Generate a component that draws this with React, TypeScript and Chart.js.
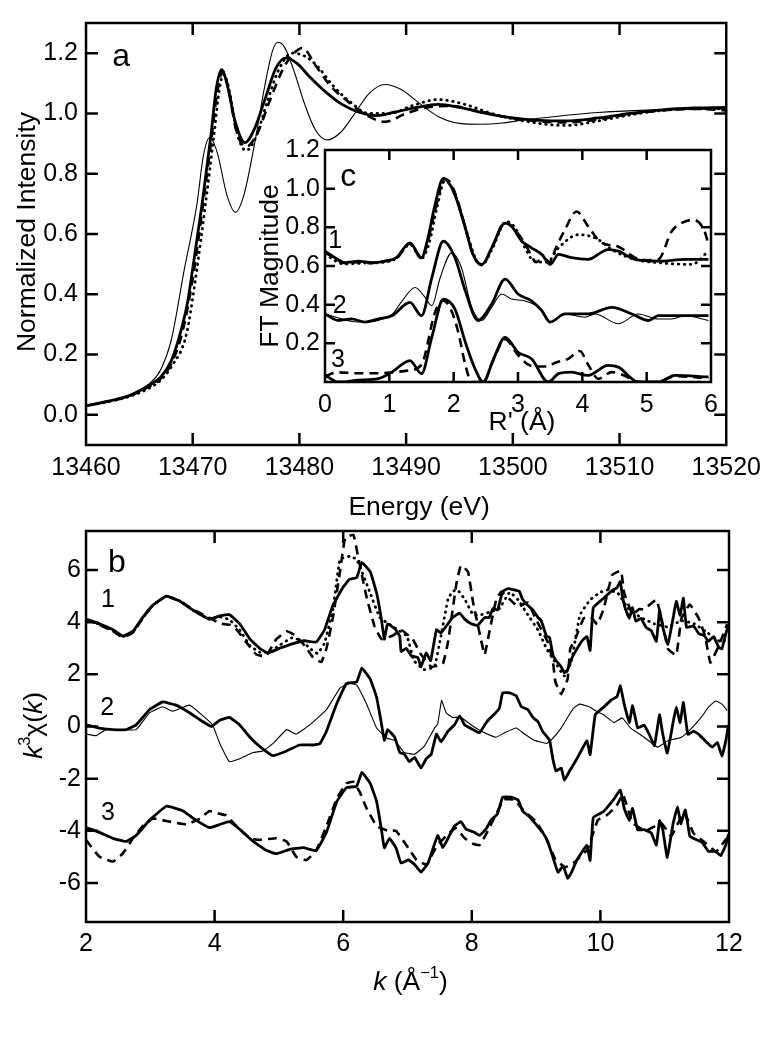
import React, { useEffect, useRef } from "react";
import { Chart, registerables } from "chart.js";

Chart.register(...registerables);

const FONT = "'Liberation Sans', Arial, Helvetica, sans-serif";

// ---------- Panel a : XANES (energy, normalized intensity) ----------
const E_TICKS = [13460, 13470, 13480, 13490, 13500, 13510, 13520];
const A_Y_TICKS = [0.0, 0.2, 0.4, 0.6, 0.8, 1.0, 1.2];

const A_THICK: [number, number][] = [
  [13460, 0.03], [13462, 0.045], [13464, 0.063], [13466, 0.1], [13467, 0.125], [13468, 0.18],
  [13468.8, 0.266], [13469.5, 0.37], [13470, 0.485], [13470.9, 0.705], [13471.7, 0.925],
  [13472.2, 1.08], [13472.7, 1.145], [13473.2, 1.1], [13474, 0.97], [13474.9, 0.903],
  [13475.8, 0.95], [13476.8, 1.05], [13477.8, 1.15], [13478.75, 1.184], [13479.8, 1.165],
  [13481, 1.12], [13482.5, 1.07], [13484, 1.03], [13485.5, 1.005], [13487.2, 0.993],
  [13489, 1.005], [13491, 1.02], [13493, 1.03], [13495, 1.02], [13497.5, 1.0], [13500, 0.985],
  [13502.5, 0.977], [13505, 0.975], [13508, 0.985], [13511, 1.0], [13514, 1.012],
  [13517, 1.018], [13520, 1.02],
];
const A_THIN: [number, number][] = [
  [13460, 0.03], [13462, 0.045], [13464, 0.065], [13466, 0.105], [13467, 0.15], [13468, 0.25],
  [13469.2, 0.48], [13470.4, 0.7], [13471, 0.86], [13471.6, 0.92], [13472.3, 0.87],
  [13473.2, 0.73], [13474, 0.672], [13474.8, 0.73], [13475.8, 0.9], [13476.8, 1.1],
  [13477.5, 1.21], [13478, 1.236], [13478.6, 1.22], [13479.5, 1.14], [13480.5, 1.03],
  [13481.5, 0.945], [13482.6, 0.912], [13483.8, 0.935], [13485, 0.99], [13486.5, 1.065],
  [13488, 1.096], [13489.5, 1.08], [13491.2, 1.035], [13493, 0.99], [13495, 0.967],
  [13497, 0.964], [13499, 0.968], [13501, 0.978], [13504, 0.99], [13508, 1.003],
  [13512, 1.01], [13516, 1.013], [13520, 1.015],
];
const A_DOTTED: [number, number][] = [
  [13460, 0.03], [13462, 0.043], [13464, 0.06], [13466, 0.09], [13467, 0.115], [13468, 0.16],
  [13469.4, 0.266], [13470.3, 0.46], [13471.2, 0.7], [13472, 0.93], [13472.5, 1.08],
  [13472.9, 1.13], [13473.4, 1.08], [13474.2, 0.93], [13475, 0.877], [13475.9, 0.92],
  [13477, 1.04], [13478, 1.14], [13479.3, 1.2], [13480.5, 1.19], [13481.6, 1.16],
  [13483.2, 1.09], [13484.7, 1.04], [13486.5, 1.0], [13488.5, 1.0], [13490.5, 1.025],
  [13493, 1.046], [13495.5, 1.03], [13498, 1.0], [13501, 0.975], [13505, 0.96],
  [13508, 0.975], [13511, 0.995], [13514, 1.01], [13517, 1.015], [13520, 1.015],
];
const A_DASHED: [number, number][] = [
  [13460, 0.03], [13462, 0.044], [13464, 0.062], [13466, 0.095], [13467, 0.12], [13468, 0.17],
  [13469, 0.27], [13470, 0.45], [13470.9, 0.68], [13471.7, 0.9], [13472.3, 1.07],
  [13472.8, 1.14], [13473.3, 1.09], [13474.1, 0.94], [13475, 0.89], [13476, 0.93],
  [13477.2, 1.04], [13478.5, 1.15], [13479.5, 1.2], [13480.3, 1.217], [13481.5, 1.16],
  [13482.8, 1.096], [13484.7, 1.035], [13486.5, 0.99], [13488, 0.972], [13490, 1.0],
  [13492, 1.02], [13494, 1.025], [13496.5, 1.01], [13499, 0.99], [13502, 0.975],
  [13505, 0.97], [13508, 0.98], [13511, 0.998], [13514, 1.01], [13517, 1.015], [13520, 1.01],
];

// ---------- Panel c : Fourier transforms (R', FT magnitude) ----------
const R_TICKS = [0, 1, 2, 3, 4, 5, 6];
const C_Y_TICKS = [0.2, 0.4, 0.6, 0.8, 1.0, 1.2];

const C1_THICK: [number, number][] = [
  [0, 0.677], [0.155, 0.643], [0.31, 0.617], [0.52, 0.625], [0.725, 0.617], [0.93, 0.625],
  [1.11, 0.643], [1.32, 0.72], [1.5, 0.643], [1.6, 0.745], [1.71, 0.916], [1.84, 1.053],
  [2.02, 0.968], [2.18, 0.797], [2.3, 0.66], [2.44, 0.608], [2.59, 0.694], [2.8, 0.822],
  [2.9, 0.805], [3.06, 0.728], [3.21, 0.694], [3.37, 0.66], [3.5, 0.608], [3.63, 0.66],
  [3.83, 0.643], [4.09, 0.634], [4.4, 0.685], [4.56, 0.677], [4.82, 0.634], [5.18, 0.625],
  [5.6, 0.634], [5.96, 0.634],
];
const C1_DASHED: [number, number][] = [
  [0, 0.67], [0.155, 0.64], [0.31, 0.615], [0.52, 0.62], [0.725, 0.615], [0.93, 0.625],
  [1.11, 0.64], [1.32, 0.715], [1.5, 0.64], [1.6, 0.73], [1.72, 0.9], [1.86, 1.05],
  [1.95, 1.03], [2.05, 0.95], [2.18, 0.8], [2.3, 0.66], [2.44, 0.605], [2.59, 0.69],
  [2.8, 0.825], [2.92, 0.8], [3.06, 0.74], [3.2, 0.66], [3.28, 0.62], [3.4, 0.64],
  [3.5, 0.62], [3.58, 0.686], [3.73, 0.788], [3.91, 0.882], [4.09, 0.805], [4.3, 0.72],
  [4.56, 0.7], [4.82, 0.643], [5.0, 0.63], [5.18, 0.634], [5.39, 0.78], [5.54, 0.822],
  [5.73, 0.839], [5.9, 0.78], [5.96, 0.711],
];
const C1_DOTTED: [number, number][] = [
  [0, 0.66], [0.3, 0.61], [0.6, 0.615], [0.93, 0.62], [1.11, 0.64], [1.32, 0.71], [1.5, 0.64],
  [1.62, 0.72], [1.74, 0.9], [1.86, 1.04], [1.95, 1.02], [2.05, 0.94], [2.2, 0.78],
  [2.35, 0.63], [2.44, 0.605], [2.6, 0.69], [2.82, 0.83], [2.95, 0.8], [3.1, 0.7], [3.2, 0.64],
  [3.3, 0.62], [3.45, 0.62], [3.63, 0.694], [3.94, 0.762], [4.2, 0.745], [4.5, 0.677],
  [4.82, 0.634], [5.18, 0.617], [5.7, 0.608], [5.96, 0.677],
];
const C2_THICK: [number, number][] = [
  [0, 0.352], [0.21, 0.318], [0.41, 0.326], [0.62, 0.31], [0.83, 0.326], [1.04, 0.343],
  [1.32, 0.412], [1.5, 0.343], [1.66, 0.539], [1.84, 0.728], [2.02, 0.643], [2.18, 0.472],
  [2.38, 0.318], [2.59, 0.403], [2.8, 0.532], [3.0, 0.455], [3.21, 0.42], [3.37, 0.369],
  [3.5, 0.31], [3.73, 0.352], [4.09, 0.352], [4.46, 0.386], [4.77, 0.352], [5.03, 0.318],
  [5.18, 0.343], [5.96, 0.343],
];
const C2_THIN: [number, number][] = [
  [0, 0.352], [0.52, 0.31], [1.04, 0.35], [1.2, 0.42], [1.4, 0.489], [1.55, 0.44],
  [1.66, 0.395], [1.79, 0.539], [1.97, 0.668], [2.12, 0.592], [2.28, 0.386], [2.44, 0.318],
  [2.59, 0.386], [2.75, 0.455], [2.9, 0.429], [3.1, 0.42], [3.32, 0.386], [3.5, 0.31],
  [3.73, 0.352], [4.04, 0.335], [4.2, 0.352], [4.56, 0.301], [4.87, 0.352], [5.18, 0.326],
  [5.39, 0.326], [5.6, 0.343], [5.96, 0.318],
];
const C3_THICK: [number, number][] = [
  [0, 0.036], [0.21, 0.0], [0.52, 0.009], [0.83, 0.017], [1.04, 0.051], [1.32, 0.111],
  [1.5, 0.043], [1.66, 0.231], [1.84, 0.428], [2.02, 0.377], [2.18, 0.207], [2.33, 0.07],
  [2.46, 0.0], [2.62, 0.12], [2.8, 0.231], [3.0, 0.154], [3.21, 0.12], [3.47, 0.0],
  [3.63, 0.043], [3.83, 0.051], [4.09, 0.034], [4.4, 0.086], [4.56, 0.077], [4.87, 0.0],
  [5.18, 0.0], [5.44, 0.034], [5.96, 0.026],
];
const C3_DASHED: [number, number][] = [
  [0, 0.03], [0.2, 0.05], [0.5, 0.045], [0.8, 0.045], [1.04, 0.05], [1.3, 0.06], [1.5, 0.09],
  [1.71, 0.36], [1.84, 0.42], [1.95, 0.38], [2.07, 0.26], [2.18, 0.09], [2.28, 0.0],
  [2.46, 0.0], [2.6, 0.1], [2.8, 0.22], [3.0, 0.14], [3.16, 0.09], [3.3, 0.08], [3.45, 0.08],
  [3.58, 0.1], [3.78, 0.12], [3.96, 0.16], [4.09, 0.09], [4.25, 0.017], [4.46, 0.051],
  [4.65, 0.034], [4.87, 0.0], [5.18, 0.0], [5.44, 0.03], [5.96, 0.02],
];

// ---------- Panel b : EXAFS k^3 chi(k) ----------
const K_TICKS = [2, 4, 6, 8, 10, 12];
const B_Y_TICKS = [-6, -4, -2, 0, 2, 4, 6];

const B1_THICK: [number, number][] = [
  [2.0, 4.12], [2.21, 3.94], [2.42, 3.71], [2.57, 3.47], [2.73, 3.65], [2.88, 4.18], [3.04, 4.65],
  [3.25, 5.0], [3.45, 4.82], [3.66, 4.47], [3.92, 4.12], [4.08, 4.24], [4.23, 4.29], [4.39, 3.94],
  [4.55, 3.35], [4.7, 3.0], [4.83, 2.82], [5.01, 3.0], [5.22, 3.18], [5.4, 3.29], [5.58, 3.24],
  [5.71, 3.71], [5.84, 4.65], [6.0, 5.35], [6.1, 5.65], [6.21, 5.71], [6.29, 6.29], [6.42, 5.94],
  [6.52, 5.12], [6.59, 4.18], [6.64, 3.35], [6.69, 3.94], [6.8, 3.76], [6.88, 3.47], [6.9, 2.88],
  [6.98, 3.0], [7.06, 2.71], [7.16, 2.65], [7.21, 2.29], [7.29, 2.82], [7.36, 2.53], [7.45, 3.71],
  [7.52, 3.59], [7.63, 3.94], [7.7, 4.18], [7.81, 4.35], [7.89, 4.12], [7.99, 3.94], [8.09, 3.88],
  [8.2, 4.18], [8.27, 4.18], [8.33, 4.53], [8.4, 4.47], [8.48, 5.18], [8.56, 5.29], [8.66, 5.24],
  [8.74, 5.18], [8.79, 4.88], [8.87, 4.65], [8.95, 4.47], [9.03, 4.18], [9.08, 4.06], [9.16, 3.47],
  [9.21, 3.41], [9.26, 2.76], [9.31, 2.53], [9.39, 2.29], [9.44, 2.06], [9.49, 2.18], [9.54, 2.53],
  [9.58, 2.74], [9.71, 3.27], [9.79, 3.45], [9.84, 2.92], [9.89, 4.56], [10.05, 4.92],
  [10.18, 5.21], [10.26, 5.33], [10.31, 5.56], [10.34, 5.04], [10.39, 4.5], [10.45, 4.15],
  [10.5, 4.56], [10.55, 4.04], [10.63, 4.15], [10.71, 3.8], [10.79, 3.68], [10.87, 3.27],
  [10.92, 4.45], [10.97, 3.8], [11.05, 3.15], [11.13, 4.15], [11.18, 4.8], [11.24, 4.27],
  [11.29, 4.92], [11.34, 3.8], [11.45, 3.86], [11.53, 3.56], [11.61, 3.5], [11.68, 3.27],
  [11.76, 3.45], [11.84, 3.04], [11.89, 2.98], [11.95, 3.56], [12.0, 3.92],
];
const B1_DASHED: [number, number][] = [
  [2.0, 4.12], [2.21, 3.9], [2.42, 3.65], [2.57, 3.42], [2.73, 3.6], [2.88, 4.15], [3.04, 4.65],
  [3.25, 5.0], [3.45, 4.82], [3.66, 4.5], [3.85, 4.25], [4.0, 4.06], [4.1, 3.94], [4.25, 3.9],
  [4.35, 3.7], [4.49, 3.24], [4.65, 2.76], [4.8, 2.7], [4.96, 3.35], [5.12, 3.65], [5.25, 3.5],
  [5.4, 3.1], [5.53, 2.65], [5.66, 2.47], [5.74, 3.0], [5.84, 4.18], [5.95, 5.94], [6.03, 7.24],
  [6.16, 7.35], [6.23, 6.53], [6.36, 5.0], [6.49, 3.82], [6.6, 3.35], [6.78, 3.5], [6.9, 3.71],
  [7.08, 3.35], [7.2, 2.8], [7.37, 2.29], [7.55, 2.41], [7.63, 3.24], [7.76, 5.47], [7.83, 6.18],
  [7.94, 5.94], [8.02, 4.76], [8.12, 3.59], [8.2, 2.76], [8.27, 3.59], [8.38, 4.88], [8.46, 5.18],
  [8.59, 4.88], [8.72, 4.59], [8.87, 4.76], [9.0, 4.1], [9.18, 3.24], [9.26, 2.53], [9.3, 1.71],
  [9.39, 1.24], [9.49, 1.82], [9.53, 2.98], [9.6, 3.3], [9.74, 4.15], [9.85, 4.2], [9.95, 3.92],
  [10.05, 4.5], [10.18, 5.8], [10.32, 5.98], [10.37, 5.12], [10.5, 4.3], [10.6, 4.5],
  [10.68, 4.5], [10.87, 4.86], [10.95, 4.15], [11.05, 2.98], [11.18, 2.74], [11.26, 4.15],
  [11.39, 4.68], [11.53, 4.15], [11.63, 3.45], [11.71, 2.45], [11.84, 3.09], [11.97, 3.92],
];
const B1_DOTTED: [number, number][] = [
  [2.0, 4.1], [2.21, 3.92], [2.42, 3.68], [2.57, 3.45], [2.73, 3.62], [2.88, 4.15], [3.04, 4.65],
  [3.25, 5.0], [3.45, 4.82], [3.66, 4.47], [3.92, 4.12], [4.08, 4.2], [4.23, 4.1], [4.39, 3.7],
  [4.55, 3.1], [4.7, 2.85], [4.85, 2.85], [5.0, 3.1], [5.2, 3.4], [5.35, 3.3], [5.48, 3.0],
  [5.6, 2.8], [5.71, 3.2], [5.84, 4.5], [5.95, 6.41], [6.1, 6.53], [6.21, 6.41], [6.42, 5.12],
  [6.57, 4.18], [6.78, 3.82], [6.99, 3.47], [7.1, 2.53], [7.26, 2.18], [7.42, 2.29], [7.52, 3.47],
  [7.63, 4.88], [7.7, 5.18], [7.78, 5.24], [7.89, 4.88], [8.02, 4.29], [8.15, 4.29], [8.3, 4.41],
  [8.43, 4.53], [8.59, 5.15], [8.72, 4.86], [8.87, 4.29], [9.03, 3.7], [9.16, 3.0], [9.28, 2.53],
  [9.44, 1.94], [9.55, 2.5], [9.68, 4.27], [9.84, 4.86], [10.0, 5.15], [10.11, 5.24],
  [10.27, 5.12], [10.43, 4.53], [10.63, 4.18], [10.84, 3.94], [11.05, 3.82], [11.26, 4.06],
  [11.46, 3.94], [11.67, 3.59], [11.88, 3.24], [12.0, 3.4],
];
const B2_THICK: [number, number][] = [
  [2.0, 0.06], [2.21, -0.06], [2.42, -0.12], [2.62, -0.12], [2.78, 0.06], [2.99, 0.65],
  [3.19, 0.94], [3.4, 0.82], [3.61, 0.53], [3.82, 0.18], [3.95, 0.0], [4.08, 0.24], [4.23, 0.35],
  [4.39, 0.06], [4.55, -0.41], [4.7, -0.76], [4.91, -1.12], [5.12, -0.94], [5.32, -0.71],
  [5.53, -0.71], [5.64, -0.65], [5.74, -0.18], [5.9, 0.88], [6.05, 1.65], [6.21, 1.71],
  [6.29, 2.24], [6.42, 1.82], [6.52, 1.12], [6.59, 0.18], [6.64, -0.53], [6.69, -0.12],
  [6.8, -0.41], [6.88, -1.0], [6.95, -1.06], [7.03, -1.35], [7.11, -1.18], [7.21, -1.59],
  [7.29, -1.24], [7.37, -1.06], [7.45, -0.29], [7.52, -0.59], [7.63, -0.18], [7.73, 0.06],
  [7.81, 0.41], [7.89, 0.06], [8.02, -0.12], [8.12, -0.24], [8.2, 0.06], [8.27, 0.29],
  [8.35, 0.47], [8.43, 0.71], [8.48, 1.29], [8.59, 1.29], [8.69, 1.18], [8.77, 0.76],
  [8.87, 0.65], [8.95, 0.35], [9.03, 0.18], [9.1, -0.18], [9.21, -0.53], [9.26, -1.24],
  [9.31, -1.71], [9.39, -1.59], [9.44, -2.06], [9.52, -1.71], [9.63, -1.26], [9.79, -0.55],
  [9.84, -1.08], [9.92, 0.45], [10.05, 0.74], [10.18, 1.04], [10.26, 1.15], [10.31, 1.56],
  [10.37, 0.86], [10.45, 0.15], [10.5, 0.8], [10.58, -0.06], [10.68, 0.05], [10.76, -0.3],
  [10.84, -0.73], [10.92, 0.45], [10.97, -0.3], [11.04, -1.02], [11.13, 0.15], [11.18, 0.74],
  [11.24, 0.15], [11.29, 0.92], [11.36, -0.3], [11.45, -0.18], [11.53, -0.3], [11.63, -0.55],
  [11.74, -0.79], [11.82, -0.61], [11.89, -1.14], [11.95, -0.55], [11.99, 0.06],
];
const B2_THIN: [number, number][] = [
  [2.0, -0.29], [2.16, -0.35], [2.31, -0.12], [2.52, -0.12], [2.78, -0.12], [2.99, 0.53],
  [3.19, 0.76], [3.35, 0.59], [3.61, 0.82], [3.82, 0.41], [3.97, 0.06], [4.08, -0.65],
  [4.23, -1.35], [4.39, -1.24], [4.6, -1.0], [4.75, -0.94], [4.91, -0.65], [5.12, -0.12],
  [5.27, -0.29], [5.48, 0.06], [5.74, 0.65], [5.95, 1.47], [6.1, 1.65], [6.21, 1.59],
  [6.36, 0.88], [6.52, -0.06], [6.68, -0.45], [6.8, -0.53], [6.95, -1.0], [7.11, -1.06],
  [7.26, -0.76], [7.42, -0.06], [7.47, 0.1], [7.53, 1.0], [7.6, 0.53], [7.7, 0.35], [7.83, 0.35],
  [7.99, 0.06], [8.15, -0.18], [8.3, -0.35], [8.38, -0.41], [8.51, -0.24], [8.69, -0.06],
  [8.82, -0.29], [8.97, -0.53], [9.16, -0.65], [9.23, -0.53], [9.39, -0.06], [9.52, 0.47],
  [9.6, 0.74], [9.68, 0.86], [9.84, 0.74], [9.95, 0.56], [10.05, 0.45], [10.21, 0.15],
  [10.34, 0.33], [10.47, -0.06], [10.68, -0.41], [10.89, -0.79], [11.05, -0.55], [11.26, -0.41],
  [11.42, -0.06], [11.58, 0.39], [11.68, 0.74], [11.79, 0.98], [11.89, 0.86], [11.97, 0.62],
];
const B3_THICK: [number, number][] = [
  [2.0, -3.88], [2.21, -4.06], [2.42, -4.29], [2.62, -4.41], [2.78, -4.18], [2.99, -3.59],
  [3.25, -3.06], [3.51, -3.24], [3.71, -3.59], [3.92, -3.88], [4.08, -3.76], [4.23, -3.65],
  [4.39, -3.94], [4.6, -4.41], [4.81, -4.76], [4.96, -4.88], [5.17, -4.71], [5.38, -4.65],
  [5.58, -4.76], [5.74, -4.06], [5.9, -2.88], [6.05, -2.35], [6.21, -2.29], [6.29, -1.76],
  [6.42, -2.18], [6.52, -2.88], [6.59, -3.88], [6.64, -4.65], [6.72, -4.29], [6.82, -4.65],
  [6.9, -5.24], [7.01, -5.12], [7.11, -5.29], [7.21, -5.59], [7.32, -5.24], [7.37, -4.88],
  [7.47, -4.18], [7.55, -4.65], [7.63, -4.29], [7.73, -3.82], [7.83, -3.65], [7.91, -3.94],
  [8.04, -4.06], [8.12, -4.18], [8.22, -3.94], [8.3, -3.59], [8.4, -3.35], [8.48, -2.71],
  [8.61, -2.71], [8.72, -2.82], [8.79, -3.24], [8.9, -3.47], [9.0, -3.76], [9.1, -4.06],
  [9.18, -4.41], [9.26, -5.0], [9.34, -5.59], [9.42, -5.35], [9.49, -5.82], [9.55, -5.6],
  [9.63, -5.14], [9.79, -4.55], [9.84, -5.14], [9.89, -3.49], [10.05, -3.26], [10.21, -2.79],
  [10.31, -2.44], [10.37, -3.14], [10.45, -3.61], [10.5, -3.14], [10.58, -3.96], [10.68, -3.96],
  [10.79, -4.08], [10.87, -4.55], [10.92, -3.61], [10.97, -3.96], [11.04, -5.02], [11.13, -3.73],
  [11.2, -3.08], [11.25, -3.73], [11.32, -3.2], [11.39, -4.2], [11.47, -4.32], [11.58, -4.44],
  [11.68, -4.79], [11.79, -4.79], [11.87, -4.96], [11.95, -4.55], [11.99, -4.14],
];
const B3_DASHED: [number, number][] = [
  [2.0, -4.35], [2.21, -5.0], [2.42, -5.18], [2.57, -4.88], [2.73, -4.29], [2.88, -3.82],
  [3.04, -3.53], [3.3, -3.65], [3.56, -3.76], [3.77, -3.53], [3.92, -3.24], [4.08, -3.35],
  [4.18, -3.41], [4.34, -3.82], [4.55, -4.29], [4.7, -4.35], [4.96, -4.29], [5.12, -4.41],
  [5.27, -5.0], [5.43, -5.12], [5.58, -4.76], [5.74, -3.82], [5.9, -2.76], [6.05, -2.18],
  [6.16, -2.12], [6.26, -2.53], [6.36, -3.12], [6.52, -3.82], [6.7, -4.0], [6.82, -4.0],
  [7.01, -4.65], [7.14, -5.12], [7.3, -5.3], [7.45, -4.6], [7.6, -4.2], [7.75, -3.9],
  [7.89, -4.29], [8.02, -4.5], [8.12, -4.55], [8.25, -4.0], [8.35, -3.5], [8.5, -2.8],
  [8.65, -2.8], [8.8, -3.2], [9.0, -3.65], [9.15, -4.25], [9.3, -5.1], [9.45, -5.4], [9.6, -5.2],
  [9.8, -4.7], [9.96, -3.59], [10.1, -3.4], [10.25, -3.05], [10.35, -2.6], [10.5, -3.7],
  [10.7, -4.0], [10.95, -3.71], [11.1, -4.2], [11.3, -3.3], [11.45, -4.1], [11.6, -4.4],
  [11.8, -4.8], [11.96, -4.3],
];

// ---------- text annotations (data coordinates) ----------
const A_NOTES = [{ text: "a", x: 13463.3, y: 1.187, size: 32 }];
const B_NOTES = [
  { text: "b", x: 2.48, y: 6.27, size: 32 },
  { text: "1", x: 2.34, y: 4.85, size: 25 },
  { text: "2", x: 2.33, y: 0.71, size: 25 },
  { text: "3", x: 2.34, y: -3.31, size: 25 },
];
const C_NOTES = [
  { text: "c", x: 0.36, y: 1.06, size: 32 },
  { text: "1", x: 0.16, y: 0.73, size: 25 },
  { text: "2", x: 0.23, y: 0.395, size: 25 },
  { text: "3", x: 0.2, y: 0.113, size: 25 },
];

type Seg = { t: string; italic?: boolean; sup?: boolean };

const xy = (arr: [number, number][]) => arr.map(([x, y]) => ({ x, y }));

const THICK = { borderColor: "#000", borderWidth: 2.8 };
const THIN = { borderColor: "#000", borderWidth: 1.1 };
const DOTTED = { borderColor: "#000", borderWidth: 2.8, borderDash: [0.5, 5.5], borderCapStyle: "round" };
const DASHED = { borderColor: "#000", borderWidth: 2.6, borderDash: [9, 6] };
// panel b: noisy data, drawn with nearly straight segments
const JAGGED = { cubicInterpolationMode: "default", tension: 0.1 };

const TITLE_SIZE = 26.5;

function drawRich(ctx: CanvasRenderingContext2D, segs: Seg[], cx: number, cy: number, size: number, rotate: boolean) {
  const fontFor = (s: Seg) => `${s.italic ? "italic " : ""}${s.sup ? size * 0.62 : size}px ${FONT}`;
  let total = 0;
  const widths = segs.map((s) => {
    ctx.font = fontFor(s);
    const w = ctx.measureText(s.t).width;
    total += w;
    return w;
  });
  ctx.save();
  ctx.translate(cx, cy);
  if (rotate) ctx.rotate(-Math.PI / 2);
  ctx.textAlign = "left";
  ctx.textBaseline = "alphabetic";
  ctx.fillStyle = "#000";
  let x = -total / 2;
  const base = size * 0.36;
  segs.forEach((s, i) => {
    ctx.font = fontFor(s);
    ctx.fillText(s.t, x, s.sup ? base - size * 0.42 : base);
    x += widths[i];
  });
  ctx.restore();
}

const framePlugin = {
  id: "frame",
  afterDraw(chart: any, _args: any, opts: any) {
    const { ctx, chartArea, scales } = chart;
    const { left, top, right, bottom } = chartArea;
    ctx.save();
    ctx.strokeStyle = "#000";
    ctx.lineWidth = opts.width;
    ctx.lineCap = "butt";
    ctx.strokeRect(left, top, right - left, bottom - top);
    const L = opts.tick;
    ctx.beginPath();
    scales.x.ticks.forEach((t: any) => {
      const p = scales.x.getPixelForValue(t.value);
      if (p > left + 3 && p < right - 3) {
        ctx.moveTo(p, bottom);
        ctx.lineTo(p, bottom - L);
        ctx.moveTo(p, top);
        ctx.lineTo(p, top + L);
      }
    });
    scales.y.ticks.forEach((t: any) => {
      const p = scales.y.getPixelForValue(t.value);
      if (p > top + 3 && p < bottom - 3) {
        ctx.moveTo(left, p);
        ctx.lineTo(left + L, p);
        ctx.moveTo(right, p);
        ctx.lineTo(right - L, p);
      }
    });
    ctx.stroke();
    ctx.fillStyle = "#000";
    ctx.textAlign = "center";
    ctx.textBaseline = "middle";
    (opts.notes || []).forEach((n: any) => {
      ctx.font = `${n.size}px ${FONT}`;
      ctx.fillText(n.text, scales.x.getPixelForValue(n.x), scales.y.getPixelForValue(n.y));
    });
    const xt = opts.xTitle;
    if (xt) drawRich(ctx, xt.segs, (left + right) / 2 + xt.dx, bottom + xt.dy, TITLE_SIZE, false);
    const yt = opts.yTitle;
    if (yt) drawRich(ctx, yt.segs, left - yt.dx, (top + bottom) / 2 + yt.dy, TITLE_SIZE, true);
    ctx.restore();
  },
};

function makeConfig(p: {
  datasets: any[];
  xMin: number; xMax: number; xTicks: number[];
  yMin: number; yMax: number; yTicks: number[];
  yFmt: (v: number) => string;
  pad: { top: number; right: number };
  yWidth: number; xHeight: number;
  xPad: number; yPad: number;
  frame: any;
}) {
  const tickFont = { family: FONT, size: 25 };
  return {
    type: "line",
    data: { datasets: p.datasets },
    plugins: [framePlugin],
    options: {
      animation: false,
      responsive: false,
      maintainAspectRatio: false,
      layout: { padding: { top: p.pad.top, right: p.pad.right, left: 0, bottom: 0 } },
      elements: {
        point: { radius: 0, hoverRadius: 0 },
        line: { cubicInterpolationMode: "monotone", fill: false },
      },
      plugins: { legend: { display: false }, tooltip: { enabled: false }, frame: p.frame },
      scales: {
        x: {
          type: "linear",
          min: p.xMin,
          max: p.xMax,
          afterBuildTicks: (s: any) => { s.ticks = p.xTicks.map((v) => ({ value: v })); },
          afterFit: (s: any) => { s.height = p.xHeight; },
          grid: { display: false, drawTicks: false },
          border: { display: false },
          ticks: {
            font: tickFont, color: "#000", padding: p.xPad, maxRotation: 0, autoSkip: false,
            callback: (v: number) => String(v),
          },
        },
        y: {
          type: "linear",
          min: p.yMin,
          max: p.yMax,
          afterBuildTicks: (s: any) => { s.ticks = p.yTicks.map((v) => ({ value: v })); },
          afterFit: (s: any) => { s.width = p.yWidth; },
          grid: { display: false, drawTicks: false },
          border: { display: false },
          ticks: { font: tickFont, color: "#000", padding: p.yPad, autoSkip: false, callback: (v: number) => p.yFmt(v) },
        },
      },
    },
  };
}

export default function App() {
  const aRef = useRef<HTMLCanvasElement>(null);
  const bRef = useRef<HTMLCanvasElement>(null);
  const cRef = useRef<HTMLCanvasElement>(null);

  useEffect(() => {
    const chartA = new Chart(aRef.current as any, makeConfig({
      datasets: [
        { data: xy(A_THIN), ...THIN },
        { data: xy(A_DOTTED), ...DOTTED },
        { data: xy(A_DASHED), ...DASHED },
        { data: xy(A_THICK), ...THICK },
      ],
      xMin: 13460, xMax: 13520, xTicks: E_TICKS,
      yMin: -0.1, yMax: 1.3, yTicks: A_Y_TICKS, yFmt: (v) => v.toFixed(1),
      pad: { top: 19, right: 41 }, yWidth: 86, xHeight: 75, xPad: 8, yPad: 8,
      frame: {
        width: 2.5, tick: 12, notes: A_NOTES,
        xTitle: { segs: [{ t: "Energy (eV)" }], dx: 13, dy: 60 },
        yTitle: { segs: [{ t: "Normalized Intensity" }], dx: 61, dy: -2 },
      },
    }) as any);

    const chartB = new Chart(bRef.current as any, makeConfig({
      datasets: [
        { data: xy(B2_THIN), ...THIN, ...JAGGED },
        { data: xy(B1_DOTTED), ...DOTTED, ...JAGGED },
        { data: xy(B1_DASHED), ...DASHED, ...JAGGED },
        { data: xy(B3_DASHED), ...DASHED, ...JAGGED },
        { data: xy(B1_THICK), ...THICK, ...JAGGED },
        { data: xy(B2_THICK), ...THICK, ...JAGGED },
        { data: xy(B3_THICK), ...THICK, ...JAGGED },
      ],
      xMin: 2, xMax: 12, xTicks: K_TICKS,
      yMin: -7.5, yMax: 7.5, yTicks: B_Y_TICKS, yFmt: (v) => String(v),
      pad: { top: 21, right: 40 }, yWidth: 86, xHeight: 128, xPad: 7, yPad: 5,
      frame: {
        width: 2.5, tick: 12, notes: B_NOTES,
        xTitle: { segs: [{ t: "k", italic: true }, { t: " (Å" }, { t: "−1", sup: true }, { t: ")" }], dx: 3, dy: 58 },
        yTitle: { segs: [{ t: "k", italic: true }, { t: "3", sup: true }, { t: "χ(" }, { t: "k", italic: true }, { t: ")" }], dx: 54, dy: -1 },
      },
    }) as any);

    const chartC = new Chart(cRef.current as any, makeConfig({
      datasets: [
        { data: xy(C2_THIN), ...THIN },
        { data: xy(C1_DOTTED), ...DOTTED },
        { data: xy(C1_DASHED), ...DASHED },
        { data: xy(C3_DASHED), ...DASHED },
        { data: xy(C1_THICK), ...THICK },
        { data: xy(C2_THICK), ...THICK },
        { data: xy(C3_THICK), ...THICK },
      ],
      xMin: 0, xMax: 6, xTicks: R_TICKS,
      yMin: 0, yMax: 1.2, yTicks: C_Y_TICKS, yFmt: (v) => v.toFixed(1),
      pad: { top: 18, right: 19 }, yWidth: 85, xHeight: 68, xPad: 8, yPad: 5,
      frame: {
        width: 2.5, tick: 10, notes: C_NOTES,
        xTitle: { segs: [{ t: "R' (Å)" }], dx: 4, dy: 38 },
        yTitle: { segs: [{ t: "FT Magnitude" }], dx: 57, dy: 0 },
      },
    }) as any);

    return () => {
      chartA.destroy();
      chartB.destroy();
      chartC.destroy();
    };
  }, []);

  return (
    <div style={{ position: "absolute", left: 0, top: 0, width: 769, height: 1050, background: "#fff" }}>
      <canvas ref={aRef} width={769} height={520} style={{ position: "absolute", left: 0, top: 0, width: 769, height: 520 }} />
      <canvas ref={bRef} width={769} height={540} style={{ position: "absolute", left: 0, top: 510, width: 769, height: 540 }} />
      <canvas ref={cRef} width={490} height={320} style={{ position: "absolute", left: 240, top: 130, width: 490, height: 320, zIndex: 2 }} />
    </div>
  );
}
